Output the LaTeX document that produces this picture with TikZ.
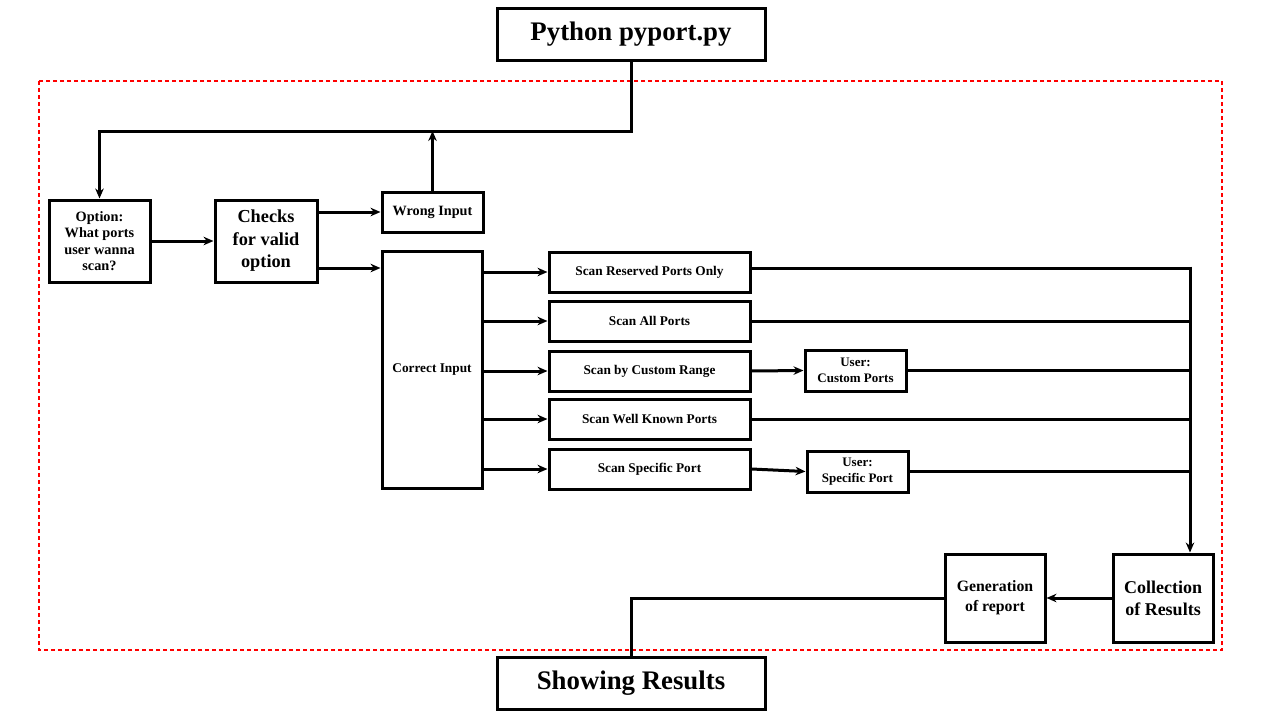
\documentclass[tikz,border=0pt]{standalone}
\usepackage{fontspec}
\setmainfont{Liberation Serif}
\usetikzlibrary{arrows.meta,positioning}
\tikzset{
    %Define standard arrow tip
    >={Stealth[length=10pt,width=8.5pt]},
    %Define style for boxes
    kasten/.style={
           rectangle,
           draw=black, line width=3pt,
           inner sep=0pt,
           align=center,
           font=\bfseries},
    scanbox/.style={
           kasten,
           minimum width=201pt,
           minimum height=40pt,
           font=\bfseries\fontsize{13.3}{15}\selectfont},
    userbox/.style={
           kasten,
           minimum width=101pt,
           minimum height=41pt,
           font=\bfseries\fontsize{13}{15.5}\selectfont},
    titlebox/.style={
           kasten,
           minimum width=268pt,
           minimum height=52pt,
           font=\bfseries\fontsize{26.8}{30}\selectfont},
    % Define arrow style
    pil/.style={
           ->,
           line width=3pt},
    linie/.style={
           line width=3pt}
}
\begin{document}
\begin{tikzpicture}[x=1pt,y=-1pt]
\useasboundingbox (0,0) rectangle (1280,720);

% frame of the scanner
\draw[red, line width=1.4pt, dash pattern=on 4pt off 3pt] (39,81) rectangle (1222,650);

\node[titlebox] (python) at (631,34) {Python pyport.py};
\node[titlebox] (show) at (631,683) {Showing Results};

\node[kasten, minimum width=101pt, minimum height=82pt,
      font=\bfseries\fontsize{14.3}{16.5}\selectfont] (option) at (99.5,241)
      {Option:\\What ports\\user wanna\\scan?};
\node[kasten, minimum width=102pt, minimum height=82pt,
      font=\bfseries\fontsize{18.3}{22.5}\selectfont] (checks) at (266,241)
      {Checks\\for valid\\option};
\node[kasten, minimum width=101pt, minimum height=40pt,
      font=\bfseries\fontsize{14.2}{15}\selectfont] (wrong) at (432.5,212) {Wrong Input};
\node[kasten, minimum width=100pt, minimum height=237pt,
      font=\bfseries\fontsize{13.3}{15}\selectfont] (correct) at (432,369.5) {Correct Input};

\coordinate (loop) at (98,131);
\coordinate (bus) at (1190,268);

\draw[pil] (python.south) -- (python.south |- loop) -| (option.north);
\draw[pil] (wrong.north) -- (wrong.north |- loop);
\draw[pil] (option.east) -- (checks.west);
\draw[pil] (checks.east |- wrong.west) -- (wrong.west);
\coordinate (cc) at ([yshift=-27pt]checks.east);
\draw[pil] (cc) -- (cc -| correct.west);

% the five kinds of scan
\foreach \nm/\yy/\txt in {reserved/272/Scan Reserved Ports Only,
                          all/321/Scan All Ports,
                          custom/371/Scan by Custom Range,
                          known/419/Scan Well Known Ports,
                          specific/469/Scan Specific Port}{
  \node[scanbox] (\nm) at (649.5,\yy) {\txt};
  \draw[pil] (correct.east |- \nm.west) -- (\nm.west);
}

\node[userbox] (usercustom) at (855.5,370.5) {User:\\Custom Ports};
\node[userbox] (userspecific) at (857.5,471.5) {User:\\Specific Port};

\draw[pil] (custom.east) -- (usercustom.west);
\draw[pil] (specific.east) -- (userspecific.west);

\draw[linie] (reserved.east |- bus) -- (bus);
\foreach \nm in {all,known,usercustom,userspecific}
  \draw[linie] (\nm.east) -- (\nm.east -| bus);

\node[kasten, minimum width=100pt, minimum height=88pt,
      font=\bfseries\fontsize{15.8}{20}\selectfont] (gen) at (995,598)
      {Generation\\of report};
\node[kasten, minimum width=100pt, minimum height=88pt,
      font=\bfseries\fontsize{18}{22}\selectfont] (collect) at (1163,598)
      {Collection\\of Results};

\draw[pil] ([yshift=1.5pt]bus) -- (bus |- collect.north);
\draw[pil] (collect.west) -- (gen.east);
\draw[linie] (gen.west) -| (show.north);
\end{tikzpicture}
\end{document}
